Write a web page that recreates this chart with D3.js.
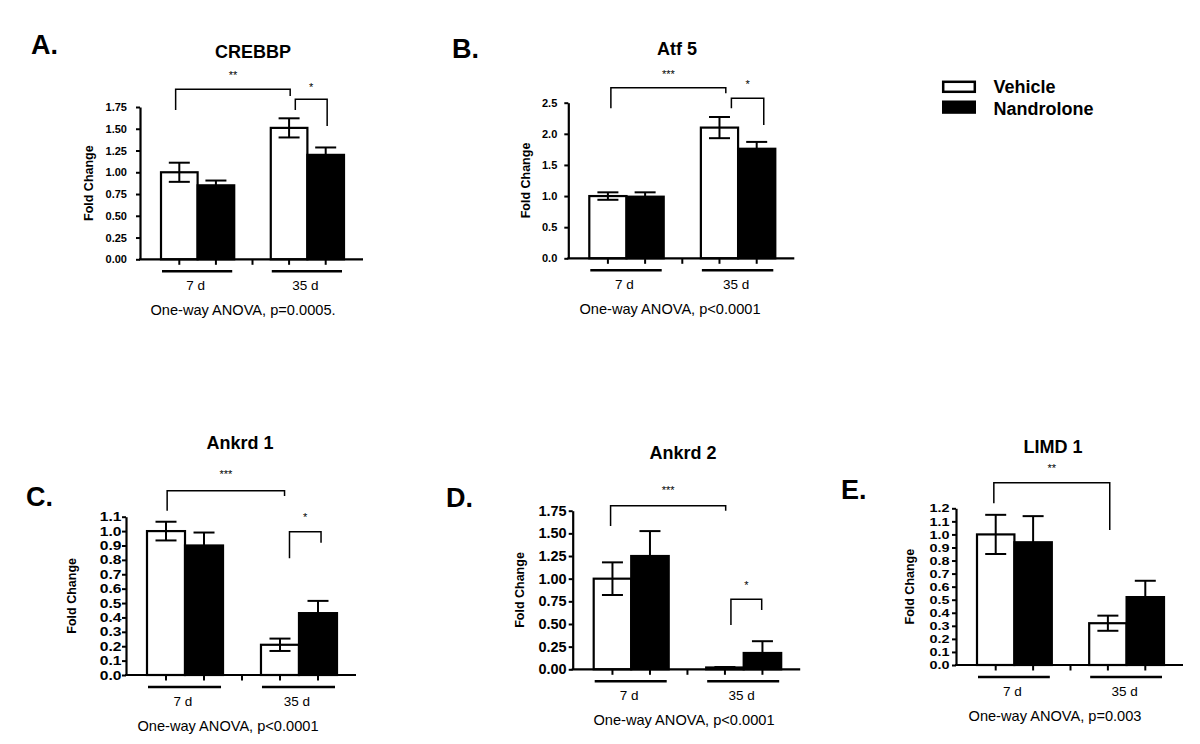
<!DOCTYPE html>
<html>
<head>
<meta charset="utf-8">
<script src="https://cdn.jsdelivr.net/npm/d3@7"></script>
<style>
  html, body { margin: 0; padding: 0; background: #fff; }
  svg { display: block; font-family: "Liberation Sans", Arial, Helvetica, sans-serif; }
  text { fill: #000; }
</style>
</head>
<body>
<svg id="chart" width="1200" height="744"></svg>
<script>
// ---------------- DATA ----------------
const panelLetters = ["A.", "B.", "C.", "D.", "E."];
const titles = ["CREBBP", "Atf 5", "Ankrd 1", "Ankrd 2", "LIMD 1"];
const groups = ["7 d", "35 d"];
const series = ["Vehicle", "Nandrolone"];
const vehicleMean = [[1.00, 1.51], [1.00, 2.10], [1.00, 0.21], [1.00, 0.02], [1.00, 0.32]];
const vehicleSem = [[0.11, 0.11], [0.06, 0.17], [0.065, 0.043], [0.18, 0.005], [0.15, 0.058]];
const nandroloneMean = [[0.85, 1.20], [0.99, 1.76], [0.90, 0.43], [1.25, 0.18], [0.94, 0.52]];
const nandroloneSem = [[0.055, 0.085], [0.07, 0.11], [0.09, 0.085], [0.275, 0.13], [0.20, 0.125]];
const yMax = [1.75, 2.5, 1.1, 1.75, 1.2];
const yTicks = [
  [0, 0.25, 0.5, 0.75, 1.0, 1.25, 1.5, 1.75],
  [0, 0.5, 1.0, 1.5, 2.0, 2.5],
  [0, 0.1, 0.2, 0.3, 0.4, 0.5, 0.6, 0.7, 0.8, 0.9, 1.0, 1.1],
  [0, 0.25, 0.5, 0.75, 1.0, 1.25, 1.5, 1.75],
  [0, 0.1, 0.2, 0.3, 0.4, 0.5, 0.6, 0.7, 0.8, 0.9, 1.0, 1.1, 1.2]
];
const tickFormats = [".2f", ".1f", ".1f", ".2f", ".1f"];
const yLabel = "Fold Change";
const captions = [
  "One-way ANOVA, p=0.0005.",
  "One-way ANOVA, p<0.0001",
  "One-way ANOVA, p<0.0001",
  "One-way ANOVA, p<0.0001",
  "One-way ANOVA, p=0.003"
];
// significance brackets: bar position (0..3, fractional = offset in bar widths), levels in data units
const brackets = [
  [{ x1: -0.1, x2: 2.03, y: 1.953, l: 1.716, r: 1.876, label: "**", ly: 2.14 },
   { x1: 2.17, x2: 3.04, y: 1.838, l: 1.716, r: 1.532, label: "*", ly: 2.0 }],
  [{ x1: 0.08, x2: 2.17, y: 2.741, l: 2.41, r: 2.651, label: "***", ly: 2.993 },
   { x1: 2.32, x2: 3.19, y: 2.571, l: 2.41, r: 2.142, label: "*", ly: 2.821 }],
  [{ x1: 0.03, x2: 2.12, y: 1.281, l: 1.142, r: 1.244, label: "***", ly: 1.404 },
   { x1: 2.25, x2: 3.08, y: 0.996, l: 0.811, r: 0.919, label: "*", ly: 1.105 }],
  [{ x1: -0.05, x2: 2.02, y: 1.805, l: 1.581, r: 1.75, label: "***", ly: 1.997 },
   { x1: 2.16, x2: 2.98, y: 0.772, l: 0.489, r: 0.654, label: "*", ly: 0.949 }],
  [{ x1: -0.05, x2: 2.05, y: 1.396, l: 1.238, r: 1.034, label: "**", ly: 1.518 }]
];

// ---------------- LAYOUT ----------------
const layout = [
  { ox: 140,   y0: 259.3, yTop: 107,   W: 223,   tf: 11,   st: 1,    tp: 9,   yl: 51,   tx: 253,  ty: 52,  cx: 243,  lx: 31,  ly: 44 },
  { ox: 568.3, y0: 258.3, yTop: 102.7, W: 226,   tf: 11,   st: 1,    tp: 7,   yl: 42.3, tx: 677,  ty: 49,  cx: 670,  lx: 452, ly: 48 },
  { ox: 126,   y0: 675,   yTop: 516.7, W: 230,   tf: 12.5, st: 1.25, tp: 0.5, yl: 54,   tx: 240,  ty: 443, cx: 228,  lx: 26,  ly: 496 },
  { ox: 572.7, y0: 669.3, yTop: 510.7, W: 227.5, tf: 14.5, st: 1,    tp: 2,   yl: 53.4, tx: 683,  ty: 453, cx: 684,  lx: 446, ly: 497 },
  { ox: 956,   y0: 665,   yTop: 508.3, W: 227,   tf: 11.5, st: 1.25, tp: 2.5, yl: 46.7, tx: 1053, ty: 447, cx: 1055, lx: 841, ly: 489 }
];

const svg = d3.select("#chart");
const colors = d3.scaleOrdinal().domain(series).range(["#ffffff", "#000000"]);

layout.forEach((L, pi) => {
  const g = svg.append("g");
  const y = d3.scaleLinear().domain([0, yMax[pi]]).range([L.y0, L.yTop]);
  const x = d3.scaleBand().domain(groups).range([L.ox + 21, L.ox + L.W - 19]).paddingInner(0.333).paddingOuter(0);
  const xs = d3.scaleBand().domain(series).range([0, x.bandwidth()]).padding(0);
  const bw = xs.bandwidth();

  const bars = [];
  groups.forEach((grp, gi) => {
    bars.push({ grp, s: "Vehicle", v: vehicleMean[pi][gi], e: vehicleSem[pi][gi] });
    bars.push({ grp, s: "Nandrolone", v: nandroloneMean[pi][gi], e: nandroloneSem[pi][gi] });
  });
  const center = i => x(bars[i].grp) + xs(bars[i].s) + bw / 2;
  const barX = p => { const i = Math.max(0, Math.min(3, Math.round(p))); return center(i) + (p - i) * bw; };

  // bars
  g.selectAll("rect.bar").data(bars).join("rect")
    .attr("x", d => x(d.grp) + xs(d.s))
    .attr("y", d => y(d.v))
    .attr("width", bw)
    .attr("height", d => y(0) - y(d.v))
    .attr("fill", d => colors(d.s))
    .attr("stroke", "#000").attr("stroke-width", 2.2);

  // error bars
  const cap = 10.5;
  bars.forEach((d, i) => {
    const cx = center(i);
    const lo = d.s === "Vehicle" ? d.v - d.e : d.v;
    g.append("line").attr("x1", cx).attr("x2", cx).attr("y1", y(lo)).attr("y2", y(d.v + d.e))
      .attr("stroke", "#000").attr("stroke-width", 2);
    g.append("line").attr("x1", cx - cap).attr("x2", cx + cap).attr("y1", y(d.v + d.e)).attr("y2", y(d.v + d.e))
      .attr("stroke", "#000").attr("stroke-width", 2);
    if (d.s === "Vehicle") {
      g.append("line").attr("x1", cx - cap).attr("x2", cx + cap).attr("y1", y(lo)).attr("y2", y(lo))
        .attr("stroke", "#000").attr("stroke-width", 2);
    }
  });

  // y axis
  const yAxis = d3.axisLeft(y).tickValues(yTicks[pi]).tickFormat(d3.format(tickFormats[pi]))
    .tickSize(4).tickSizeOuter(0).tickPadding(L.tp);
  const ya = g.append("g").attr("transform", `translate(${L.ox},0)`).call(yAxis);
  ya.select(".domain").attr("stroke", "#000").attr("stroke-width", 2.2);
  ya.selectAll(".tick line").attr("stroke", "#000").attr("stroke-width", 2);
  ya.selectAll(".tick text").attr("fill", "#000").style("font-size", L.tf + "px").style("font-weight", "bold")
    .style("font-family", "'Liberation Sans', Arial, sans-serif");
  if (L.st !== 1) {
    ya.selectAll(".tick text").each(function () {
      const w = this.getComputedTextLength();
      d3.select(this).attr("textLength", w * L.st).attr("lengthAdjust", "spacingAndGlyphs");
    });
  }

  // x axis line and ticks
  g.append("line").attr("x1", L.ox - 1).attr("x2", L.ox + L.W).attr("y1", y(0)).attr("y2", y(0))
    .attr("stroke", "#000").attr("stroke-width", 2.2);
  const tickXs = bars.map((d, i) => center(i));
  tickXs.push((x(groups[0]) + x.bandwidth() + x(groups[1])) / 2);
  g.selectAll("line.xt").data(tickXs).join("line").attr("class", "xt")
    .attr("x1", d => d).attr("x2", d => d).attr("y1", y(0)).attr("y2", y(0) + 5.5)
    .attr("stroke", "#000").attr("stroke-width", 2);

  // group underlines and labels
  groups.forEach(grp => {
    g.append("line").attr("x1", x(grp) + 1).attr("x2", x(grp) + x.bandwidth() - 2)
      .attr("y1", y(0) + 12).attr("y2", y(0) + 12).attr("stroke", "#000").attr("stroke-width", 2.5);
    g.append("text").attr("x", x(grp) + x.bandwidth() / 2 - 2).attr("y", y(0) + 30.5)
      .attr("text-anchor", "middle").style("font-size", "13.5px").text(grp);
  });

  // y label
  g.append("text").attr("transform", `translate(${L.ox - L.yl},${(L.y0 + L.yTop) / 2}) rotate(-90)`)
    .attr("text-anchor", "middle").attr("dy", "0.35em")
    .style("font-size", "12.5px").style("font-weight", "bold").text(yLabel);

  // title
  g.append("text").attr("x", L.tx).attr("y", L.ty).attr("dy", "0.36em").attr("text-anchor", "middle")
    .style("font-size", "18px").style("font-weight", "bold").text(titles[pi]);

  // panel letter
  g.append("text").attr("x", L.lx).attr("y", L.ly).attr("dy", "0.36em")
    .style("font-size", "27px").style("font-weight", "bold").text(panelLetters[pi]);

  // caption
  g.append("text").attr("x", L.cx).attr("y", y(0) + 51).attr("dy", "0.35em").attr("text-anchor", "middle")
    .style("font-size", "14.6px").text(captions[pi]);

  // significance brackets
  brackets[pi].forEach(b => {
    const x1 = barX(b.x1), x2 = barX(b.x2);
    const path = d3.path();
    path.moveTo(x1, y(b.l)); path.lineTo(x1, y(b.y)); path.lineTo(x2, y(b.y)); path.lineTo(x2, y(b.r));
    g.append("path").attr("d", path.toString()).attr("fill", "none").attr("stroke", "#000").attr("stroke-width", 1.5);
    g.append("text").attr("x", (x1 + x2) / 2).attr("y", y(b.ly) + 5.5).attr("text-anchor", "middle")
      .attr("fill", "#000").style("font-size", "11px").text(b.label);
  });
});

// legend
const legend = svg.append("g").attr("transform", "translate(942,80)");
series.forEach((s, i) => {
  const row = legend.append("g").attr("transform", `translate(0,${i * 20.5})`);
  if (s === "Vehicle") {
    row.append("rect").attr("x", 1.2).attr("y", 1.8).attr("width", 31.6).attr("height", 10).attr("fill", colors(s))
      .attr("stroke", "#000").attr("stroke-width", 2.5);
  } else {
    row.append("rect").attr("x", 0).attr("y", 0).attr("width", 34).attr("height", 13.3).attr("fill", colors(s));
  }
  row.append("text").attr("x", 51.5).attr("y", i === 0 ? 6.3 : 7.7).attr("dy", "0.36em")
    .style("font-size", "18px").style("font-weight", "bold").text(s);
});
</script>
</body>
</html>
